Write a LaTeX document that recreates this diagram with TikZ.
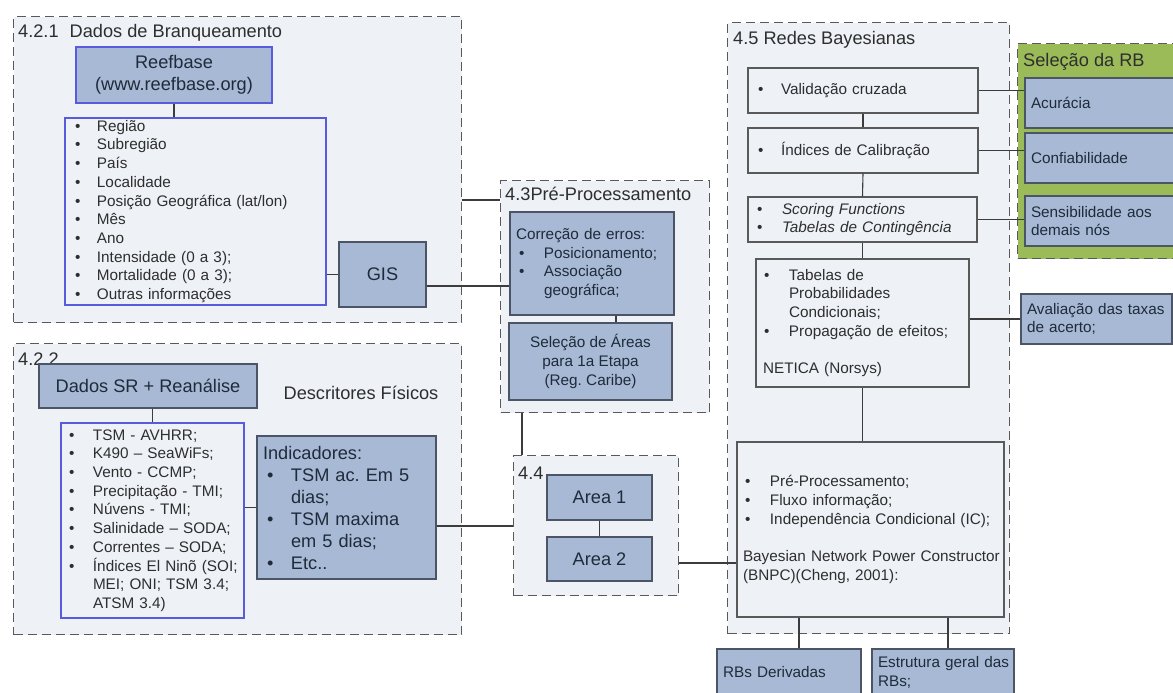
\documentclass[tikz,border=0pt]{standalone}
\usepackage{fontspec}
\setmainfont{Liberation Sans}
\usetikzlibrary{positioning}
\frenchspacing

\definecolor{grpfill}{HTML}{EEF1F6}
\definecolor{steel}{HTML}{A7B9D4}
\definecolor{steeledge}{HTML}{4B5566}
\definecolor{steeltext}{HTML}{1F2B3A}
\definecolor{listedge}{HTML}{5A5ADC}
\definecolor{rbgreen}{HTML}{9BBB59}
\definecolor{inktext}{HTML}{2E2E2E}
\definecolor{wirecol}{HTML}{3C3C3C}

\newcommand{\bodytxt}{\fontsize{15.3}{18.7}\selectfont}
\newcommand{\bigtxt}{\fontsize{18.2}{22}\selectfont}
\newcommand{\bul}[1][18pt]{\makebox[#1][l]{\textbullet}}

\begin{document}
\begin{tikzpicture}[x=1pt, y=-1pt,
  grp/.style={draw=black!65, dash pattern=on 9pt off 5pt, line width=1.3pt, fill=grpfill, anchor=north west, inner sep=0pt},
  grptitle/.style={anchor=base west, inner sep=0pt, font=\bigtxt, text=inktext},
  steelbox/.style={draw=steeledge, line width=1.2pt, fill=steel, text=steeltext, inner ysep=0pt},
  listbox/.style={draw=listedge, line width=1.2pt, fill=grpfill, text=inktext, font=\bodytxt, align=left, inner ysep=0pt},
  whitebox/.style={draw=black!65, line width=1.2pt, fill=grpfill, text=inktext, font=\bodytxt, align=left, inner ysep=0pt},
  wire/.style={draw=wirecol, line width=1.1pt}]

  \path[use as bounding box, fill=white] (0,0) rectangle (1173,693);
  \clip (0,0) rectangle (1173,693);

  % 4.2.1 dados de branqueamento
  \node[grp, minimum width=448, minimum height=306] (g421) at (13,16) {};
  \node[grptitle] (t421) at (18,38) {4.2.1\hspace{11pt}Dados de Branqueamento};
  \node[steelbox, draw=listedge, font=\bigtxt, align=center, minimum width=196, minimum height=56] (reef) at (174,75) {Reefbase\\(www.reefbase.org)};
  \node[listbox, inner xsep=10pt, text width=241pt, minimum height=187] (reg) at (195.5,211.5)
    {\bul[22pt]Região\\ \bul[22pt]Subregião\\ \bul[22pt]País\\ \bul[22pt]Localidade\\
     \bul[22pt]Posição Geográfica (lat/lon)\\ \bul[22pt]Mês\\ \bul[22pt]Ano\\
     \bul[22pt]Intensidade (0 a 3);\\ \bul[22pt]Mortalidade (0 a 3);\\ \bul[22pt]Outras informações};
  \node[steelbox, font=\bigtxt, minimum width=87, minimum height=65] (gis) at (382.5,274.5) {GIS};

  % 4.2.2 descritores fisicos
  \node[grp, minimum width=448, minimum height=291] (g422) at (13,343) {};
  \node[grptitle] (t422) at (18,365) {4.2.2};
  \node[steelbox, font=\bigtxt, minimum width=218, minimum height=44] (sr) at (148,386) {Dados SR + Reanálise};
  \node[font=\bigtxt, text=inktext] (descr) at (361,393) {Descritores Físicos};
  \node[listbox, inner xsep=8pt, text width=167pt, minimum height=195] (fis) at (152.5,520.5)
    {\bul[24pt]TSM - AVHRR;\\ \bul[24pt]K490 -- SeaWiFs;\\ \bul[24pt]Vento - CCMP;\\
     \bul[24pt]Precipitação - TMI;\\ \bul[24pt]Núvens - TMI;\\ \bul[24pt]Salinidade -- SODA;\\
     \bul[24pt]Correntes -- SODA;\\ \bul[24pt]\mbox{Índices El Ninõ (SOI;}\\
     \hspace*{24pt}MEI; ONI; TSM 3.4;\\ \hspace*{24pt}ATSM 3.4)};
  \node[steelbox, font=\bigtxt, align=left, inner xsep=6pt, text width=167pt, minimum height=143] (ind) at (346.5,507.5)
    {Indicadores:\\ \hspace*{4pt}\bul[24pt]TSM ac. Em 5\\ \hspace*{28pt}dias;\\
     \hspace*{4pt}\bul[24pt]TSM maxima\\ \hspace*{28pt}em 5 dias;\\ \hspace*{4pt}\bul[24pt]Etc..};

  % 4.3 pre-processamento
  \node[grp, minimum width=209, minimum height=232] (g43) at (500,180) {};
  \node[grptitle] (t43) at (505,200.5) {4.3Pré-Processamento};
  \node[steelbox, font=\bodytxt, align=left, inner xsep=6pt, text width=152pt, minimum height=103] (corr) at (592,263.5)
    {Correção de erros:\\ \hspace*{3pt}\bul[25pt]Posicionamento;\\
     \hspace*{3pt}\bul[25pt]Associação\\ \hspace*{28pt}geográfica;};
  \node[steelbox, font=\bodytxt, align=center, minimum width=163, minimum height=77] (sel) at (590.5,361.5)
    {Seleção de Áreas\\para 1a Etapa\\(Reg. Caribe)};

  % 4.4 areas
  \node[grp, minimum width=165, minimum height=140] (g44) at (513,455) {};
  \node[grptitle] (t44) at (518,479.5) {4.4};
  \node[steelbox, font=\bigtxt, minimum width=105, minimum height=45] (a1) at (599.5,497.5) {Area 1};
  \node[steelbox, font=\bigtxt, minimum width=105, minimum height=44] (a2) at (599.5,559) {Area 2};

  % 4.5 redes bayesianas
  \node[grp, minimum width=282, minimum height=611] (g45) at (727,22) {};
  \node[grptitle] (t45) at (733,44.5) {4.5 Redes Bayesianas};
  \node[whitebox, inner xsep=10pt, text width=210pt, minimum height=45] (val) at (863,90.5) {\bul[23pt]Validação cruzada};
  \node[whitebox, inner xsep=10pt, text width=210pt, minimum height=45] (cal) at (863,150.5) {\bul[23pt]Índices de Calibração};
  \node[whitebox, inner xsep=9pt, text width=211pt, minimum height=45] (score) at (862.5,219.5)
    {\bul[25pt]\textit{Scoring Functions}\\ \bul[25pt]\textit{Tabelas de Contingência}};
  \node[whitebox, inner xsep=7pt, text width=199pt, minimum height=128] (cpt) at (862.5,323)
    {\hspace*{1pt}\bul[25pt]Tabelas de\\ \hspace*{26pt}Probabilidades\\ \hspace*{26pt}Condicionais;\\
     \hspace*{1pt}\bul[25pt]Propagação de efeitos;\\[18.7pt] NETICA (Norsys)};
  \node[whitebox, inner xsep=6pt, text width=255pt, minimum height=175] (bnpc) at (870.5,529.5)
    {\hspace*{2pt}\bul[25pt]Pré-Processamento;\\ \hspace*{2pt}\bul[25pt]Fluxo informação;\\
     \hspace*{2pt}\bul[25pt]Independência Condicional (IC);\\[18.7pt]
     \mbox{Bayesian Network Power Constructor}\\(BNPC)(Cheng, 2001):};

  % selecao da RB
  \node[grp, fill=rbgreen, minimum width=170, minimum height=215] (g46) at (1017,43) {};
  \node[grptitle] (t46) at (1023,66.5) {Seleção da RB};
  \node[steelbox, font=\bodytxt, align=left, inner xsep=6pt, text width=148pt, minimum height=50] (acc) at (1105,103) {Acurácia};
  \node[steelbox, font=\bodytxt, align=left, inner xsep=6pt, text width=148pt, minimum height=50] (conf) at (1105,158) {Confiabilidade};
  \node[steelbox, font=\bodytxt, align=left, inner xsep=6pt, text width=148pt, minimum height=50] (sens) at (1105,221) {Sensibilidade aos\\demais nós};
  \node[steelbox, font=\bodytxt, align=left, inner xsep=6pt, text width=139pt, minimum height=50] (aval) at (1096.5,319) {\mbox{Avaliação das taxas}\\de acerto;};
  \node[steelbox, font=\bodytxt, align=left, inner xsep=6pt, text width=132pt, minimum height=47] (deriv) at (789,672.5) {RBs Derivadas};
  \node[steelbox, font=\bodytxt, align=left, inner xsep=6pt, text width=130pt, minimum height=47] (estr) at (943,672.5) {\mbox{Estrutura geral das}\\RBs;};

  % ligacoes
  \draw[wire] (reef.south) -- (reef.south |- reg.north);
  \draw[wire] (gis.west -| reg.east) -- (gis.west);
  \draw[wire] ([yshift=-11.5pt]gis.east) -- ([yshift=-11.5pt]gis.east -| corr.west);
  \draw[wire] ([yshift=-20pt]g43.north west -| g421.east) -- ([yshift=-20pt]g43.north west);
  \draw[wire] (fis.north |- sr.south) -- (fis.north);
  \draw[wire] (ind.west -| fis.east) -- (ind.west);
  \draw[wire] ([yshift=-18.5pt]ind.east) -- ([yshift=-18.5pt]ind.east -| g44.west);
  \draw[wire] ([xshift=24pt]corr.south) -- ([xshift=24pt]corr.south |- sel.north);
  \draw[wire] ([xshift=22pt]g43.south west) -- ([xshift=22pt]g43.south west |- g44.north);
  \draw[wire] (a1.south) -- (a2.north);
  \draw[wire] ([yshift=-33.5pt]bnpc.west -| g44.east) -- ([yshift=-33.5pt]bnpc.west);
  \draw[wire] (val.south) -- (cal.north);
  \draw[wire] (cal.south) -- (score.north);
  \draw[wire] (score.south) -- (cpt.north);
  \draw[wire] (cpt.south) -- (cpt.south |- bnpc.north);
  \draw[wire] (val.east) -- (val.east -| acc.west);
  \draw[wire] (cal.east) -- (cal.east -| conf.west);
  \draw[wire] (score.east) -- (score.east -| sens.west);
  \draw[wire] (aval.west -| cpt.east) -- (aval.west);
  \draw[wire] ([xshift=10pt]deriv.north |- bnpc.south) -- ([xshift=10pt]deriv.north);
  \draw[wire] ([xshift=5pt]estr.north |- bnpc.south) -- ([xshift=5pt]estr.north);
\end{tikzpicture}
\end{document}
